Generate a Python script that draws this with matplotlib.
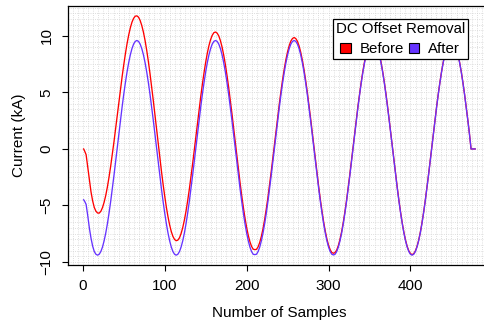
import numpy as np
import matplotlib
matplotlib.use('Agg')
import matplotlib.pyplot as plt
from matplotlib.patches import Patch
from matplotlib.ticker import MultipleLocator

plt.rcParams['font.family'] = ['Liberation Sans', 'DejaVu Sans']

# Sample index of each point
samples = [1, 2, 4, 6, 8, 10, 12] + list(range(14, 475, 2)) + [479]

# Current before DC offset removal (kA)
before = [0.00, -0.15, -0.50, -1.60, -2.75, -3.80, -4.60,
          # first cycle
          -5.18, -5.51, -5.67, -5.68, -5.52, -5.19, -4.72, -4.11, -3.36, -2.49, -1.53, -0.49,
          0.62, 1.78, 2.95, 4.13, 5.29, 6.41, 7.46, 8.43, 9.32, 10.08, 10.72, 11.22,
          11.56, 11.75, 11.78, 11.66, 11.37, 10.92, 10.33, 9.60, 8.73, 7.75, 6.68, 5.53,
          4.31, 3.05, 1.77, 0.50, -0.76, -1.97,
          # second cycle
          -3.12, -4.18, -5.16, -6.01, -6.73, -7.31, -7.74, -8.01, -8.12, -8.07, -7.86, -7.48,
          -6.96, -6.29, -5.50, -4.58, -3.58, -2.49, -1.34, -0.14, 1.08, 2.30, 3.50, 4.66,
          5.75, 6.76, 7.68, 8.48, 9.15, 9.68, 10.06, 10.29, 10.35, 10.25, 10.00, 9.58,
          9.02, 8.31, 7.48, 6.52, 5.48, 4.35, 3.16, 1.93, 0.67, -0.58, -1.81, -3.00,
          # third cycle
          -4.13, -5.17, -6.12, -6.95, -7.65, -8.21, -8.62, -8.87, -8.91, -8.89, -8.66, -8.27,
          -7.73, -7.05, -6.24, -5.30, -4.28, -3.18, -2.01, -0.80, 0.44, 1.67, 2.88, 4.05,
          5.16, 6.18, 7.11, 7.93, 8.61, 9.15, 9.55, 9.78, 9.86, 9.77, 9.53, 9.12,
          8.57, 7.87, 7.05, 6.10, 5.07, 3.95, 2.77, 1.54, 0.30, -0.95, -2.17, -3.36,
          # fourth cycle
          -4.47, -5.50, -6.45, -7.27, -7.97, -8.52, -8.92, -9.17, -9.23, -9.17, -8.94, -8.54,
          -7.99, -7.31, -6.49, -5.55, -4.53, -3.42, -2.24, -1.02, 0.21, 1.45, 2.67, 3.85,
          4.95, 5.98, 6.92, 7.74, 8.42, 8.97, 9.37, 9.61, 9.69, 9.61, 9.37, 8.96,
          8.41, 7.72, 6.90, 5.96, 4.93, 3.82, 2.63, 1.41, 0.17, -1.07, -2.29, -3.47,
          # fifth cycle
          -4.59, -5.62, -6.56, -7.38, -8.07, -8.62, -9.02, -9.26, -9.35, -9.27, -9.03, -8.63,
          -8.08, -7.39, -6.57, -5.63, -4.60, -3.49, -2.32, -1.10, 0.14, 1.38, 2.60, 3.78,
          4.89, 5.92, 6.86, 7.68, 8.37, 8.91, 9.31, 9.55, 9.63, 9.55, 9.31, 8.91,
          8.36, 7.67, 6.85, 5.91, 4.88, 3.77, 2.59, 1.37, 0.00,
          0.00]

# Current after DC offset removal (kA)
after = [-4.50, -4.60, -4.90, -5.90, -7.00, -7.90, -8.60,
         # first cycle
         -9.08, -9.32, -9.40, -9.32, -9.08, -8.68, -8.13, -7.44, -6.62, -5.68, -4.65, -3.54,
         -2.36, -1.14, 0.10, 1.34, 2.56, 3.74, 4.85, 5.88, 6.82, 7.64, 8.33, 8.88,
         9.28, 9.52, 9.60, 9.52, 9.28, 8.88, 8.33, 7.64, 6.82, 5.88, 4.85, 3.74,
         2.56, 1.34, 0.10, -1.14, -2.36, -3.54,
         # second cycle
         -4.65, -5.68, -6.62, -7.44, -8.13, -8.68, -9.08, -9.32, -9.40, -9.32, -9.08, -8.68,
         -8.13, -7.44, -6.62, -5.68, -4.65, -3.54, -2.36, -1.14, 0.10, 1.34, 2.56, 3.74,
         4.85, 5.88, 6.82, 7.64, 8.33, 8.88, 9.28, 9.52, 9.60, 9.52, 9.28, 8.88,
         8.33, 7.64, 6.82, 5.88, 4.85, 3.74, 2.56, 1.34, 0.10, -1.14, -2.36, -3.54,
         # third cycle
         -4.65, -5.68, -6.62, -7.44, -8.13, -8.68, -9.08, -9.32, -9.35, -9.32, -9.08, -8.68,
         -8.13, -7.44, -6.62, -5.68, -4.65, -3.54, -2.36, -1.14, 0.10, 1.34, 2.56, 3.74,
         4.85, 5.88, 6.82, 7.64, 8.33, 8.88, 9.28, 9.52, 9.60, 9.52, 9.28, 8.88,
         8.33, 7.64, 6.82, 5.88, 4.85, 3.74, 2.56, 1.34, 0.10, -1.14, -2.36, -3.54,
         # fourth cycle
         -4.65, -5.68, -6.62, -7.44, -8.13, -8.68, -9.08, -9.32, -9.38, -9.32, -9.08, -8.68,
         -8.13, -7.44, -6.62, -5.68, -4.65, -3.54, -2.36, -1.14, 0.10, 1.34, 2.56, 3.74,
         4.85, 5.88, 6.82, 7.64, 8.33, 8.88, 9.28, 9.52, 9.60, 9.52, 9.28, 8.88,
         8.33, 7.64, 6.82, 5.88, 4.85, 3.74, 2.56, 1.34, 0.10, -1.14, -2.36, -3.54,
         # fifth cycle
         -4.65, -5.68, -6.62, -7.44, -8.13, -8.68, -9.08, -9.32, -9.40, -9.32, -9.08, -8.68,
         -8.13, -7.44, -6.62, -5.68, -4.65, -3.54, -2.36, -1.14, 0.10, 1.34, 2.56, 3.74,
         4.85, 5.88, 6.82, 7.64, 8.33, 8.88, 9.28, 9.52, 9.60, 9.52, 9.28, 8.88,
         8.33, 7.64, 6.82, 5.88, 4.85, 3.74, 2.56, 1.34, 0.00,
         0.00]

legend_labels = ['Before', 'After']
colors = ['#ff0000', '#6633ff']

fig = plt.figure(figsize=(4.85, 3.27), dpi=100)
ax = fig.add_axes([0.1402, 0.1896, 0.8716, 0.7920])

# Background dotted grid
ax.xaxis.set_minor_locator(MultipleLocator(6.25))
ax.yaxis.set_minor_locator(MultipleLocator(0.5))
ax.grid(which='both', color='#d4d4d4', linestyle=':', linewidth=0.6)
ax.tick_params(which='minor', length=0)
ax.set_axisbelow(True)

ax.plot(samples, before, color=colors[0], linewidth=0.95)
ax.plot(samples, after, color=colors[1], linewidth=0.95)

ax.set_xlim(-18.1, 498)
ax.set_ylim(-10.27, 12.65)
ax.set_xticks([0, 100, 200, 300, 400])
ax.set_yticks([-10, -5, 0, 5, 10])
ax.set_yticklabels(['\u221210', '\u22125', '0', '5', '10'])
ax.tick_params(which='major', length=4.3, width=0.8, pad=6, labelsize=11, color='black')
for lab in ax.get_yticklabels():
    lab.set_rotation(90)
    lab.set_va('center')

for sp in ax.spines.values():
    sp.set_linewidth(0.9)
    sp.set_color('black')

ax.set_xlabel('Number of Samples', fontsize=11, labelpad=9)
ax.set_ylabel('Current (kA)', fontsize=11, labelpad=10)

handles = [Patch(facecolor=c, edgecolor='black', linewidth=0.8) for c in colors]
leg = ax.legend(handles, legend_labels, title='DC Offset Removal', ncol=2,
                loc='upper right', bbox_to_anchor=(468 / 485, 1 - 19 / 327),
                bbox_transform=fig.transFigure, fontsize=10.8, title_fontsize=10.8,
                handlelength=0.7, handleheight=0.7, handletextpad=0.6,
                columnspacing=0.3, borderpad=0.2, labelspacing=0.4,
                fancybox=False, framealpha=1, edgecolor='black', borderaxespad=0)
leg.get_frame().set_linewidth(0.9)

fig.savefig('out.png', dpi=100)
